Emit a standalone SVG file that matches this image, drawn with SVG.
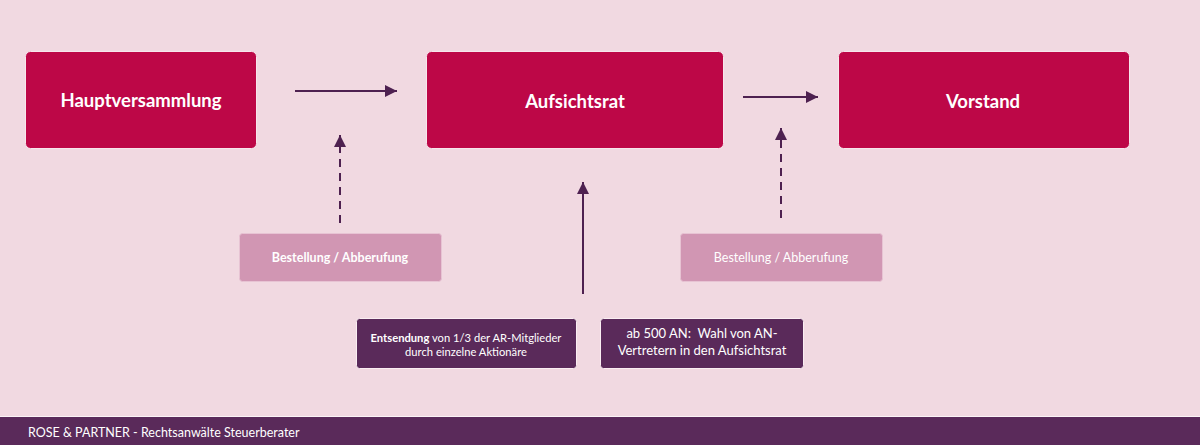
<svg xmlns="http://www.w3.org/2000/svg" width="1200" height="445" viewBox="0 0 1200 445">
<defs>
<style>
.main{fill:#BD0747;stroke:#F7E6EC;stroke-width:1}
.lt{fill:#D196B3;stroke:#E7C3D3;stroke-width:1}
.dk{fill:#5A2A5A;stroke:#FAEEF2;stroke-width:1}
.t{font-family:Lato,"Open Sans",sans-serif;fill:#FFFFFF;text-anchor:middle}
.big{font-size:18.5px;font-weight:bold}
.sm{font-size:12.5px}
.xs{font-size:11.2px}
.ln{stroke:#4E2150;stroke-width:2;fill:none}
.dash{stroke-dasharray:8,6}
</style>
<marker id="ah" viewBox="0 0 10 10" refX="10" refY="5" markerWidth="6" markerHeight="6" markerUnits="strokeWidth" orient="auto">
<path d="M0,0 L10,5 L0,10 z" fill="#4E2150"/>
</marker>
</defs>
<rect width="1200" height="445" fill="#F1D9E1"/>
<g id="hauptversammlung">
<rect class="main" x="25.5" y="51.5" width="231" height="97" rx="5"/>
<text class="t big" x="141" y="107">Hauptversammlung</text>
</g>
<g id="aufsichtsrat">
<rect class="main" x="426.5" y="51.5" width="297" height="97" rx="5"/>
<text class="t big" x="575" y="108" font-weight="600">Aufsichtsrat</text>
</g>
<g id="vorstand">
<rect class="main" x="838.5" y="51.5" width="291" height="97" rx="5"/>
<text class="t big" x="983" y="108">Vorstand</text>
</g>
<g id="bestellung1">
<rect class="lt" x="239.5" y="233.5" width="202" height="48" rx="3"/>
<text class="t sm" x="340" y="262" font-weight="bold">Bestellung / Abberufung</text>
</g>
<g id="bestellung2">
<rect class="lt" x="680.5" y="233.5" width="202" height="48" rx="3"/>
<text class="t sm" x="781" y="262">Bestellung / Abberufung</text>
</g>
<g id="entsendung">
<rect class="dk" x="356.5" y="318.5" width="220" height="50" rx="3"/>
<text class="t xs" x="466" y="342"><tspan font-weight="bold">Entsendung</tspan> von 1/3 der AR-Mitglieder</text>
<text class="t xs" x="466" y="356">durch einzelne Aktionäre</text>
</g>
<g id="wahl">
<rect class="dk" x="600.5" y="318.5" width="203" height="50" rx="3"/>
<text class="t" x="702" y="338" font-size="13">ab 500 AN:&#160; Wahl von AN-</text>
<text class="t" x="702" y="355" font-size="13">Vertretern in den Aufsichtsrat</text>
</g>
<g id="connectors">
<line class="ln" x1="295" y1="91" x2="397" y2="91" marker-end="url(#ah)"/>
<line class="ln" x1="743" y1="97" x2="818" y2="97" marker-end="url(#ah)"/>
<line class="ln dash" x1="340" y1="223" x2="340" y2="135" marker-end="url(#ah)"/>
<line class="ln dash" x1="781" y1="218" x2="781" y2="128" marker-end="url(#ah)"/>
<line class="ln" x1="583" y1="294" x2="583" y2="182" marker-end="url(#ah)"/>
</g>
<g id="footer">
<rect x="0" y="416" width="1200" height="1" fill="#FFFFFF" opacity="0.7"/>
<rect x="0" y="417" width="1200" height="28" fill="#5A2A5A"/>
<text x="28" y="437" font-family="Lato,'Open Sans',sans-serif" font-size="12.5" fill="#FFFFFF">ROSE &amp; PARTNER - Rechtsanwälte Steuerberater</text>
</g>
</svg>
